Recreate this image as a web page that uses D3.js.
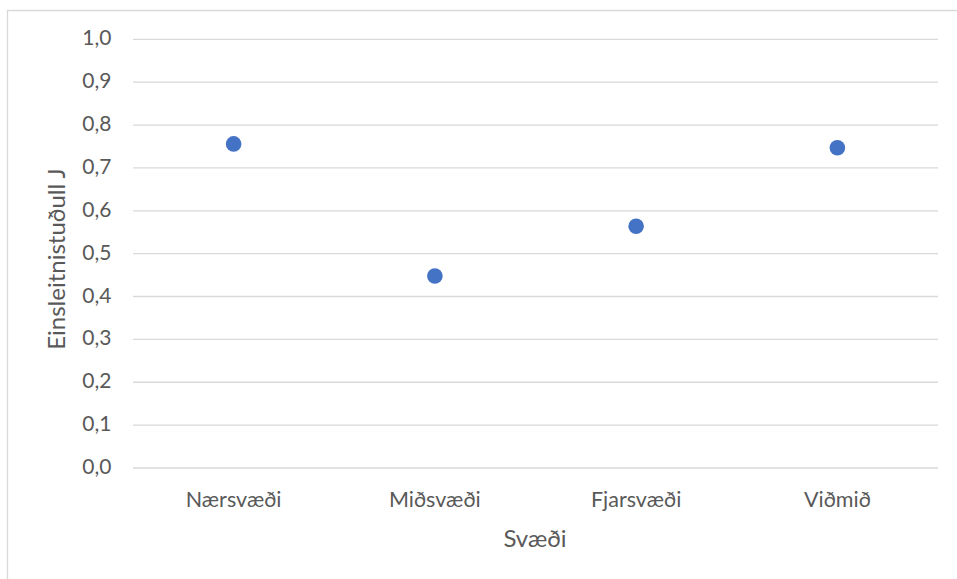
<!DOCTYPE html>
<html>
<head>
<meta charset="utf-8">
<script src="https://cdn.jsdelivr.net/npm/d3@7"></script>
<style>
  body { margin: 0; background: #fff; }
  svg text { font-family: Lato, "Open Sans", sans-serif; fill: #595959; }
</style>
</head>
<body>
<svg id="chart" width="957" height="579"></svg>
<script>
const categories = ['Nærsvæði', 'Miðsvæði', 'Fjarsvæði', 'Viðmið'];
const values = [0.756, 0.448, 0.564, 0.747];
const yTicks = [0, 0.1, 0.2, 0.3, 0.4, 0.5, 0.6, 0.7, 0.8, 0.9, 1.0];

const svg = d3.select('#chart');
const margin = { left: 133, right: 19, top: 39, bottom: 111 };
const width = 957, height = 579;

// chart frame (only top and left edges are inside the picture)
svg.append('path')
  .attr('d', 'M7.5,579V10.5H957')
  .attr('fill', 'none').attr('stroke', '#d9d9d9').attr('stroke-width', 1.3);

const x = d3.scaleBand()
  .domain(categories)
  .range([margin.left, width - margin.right]);

const y = d3.scaleLinear()
  .domain([0, 1])
  .range([468, 39.3]);

const fmt = d => d3.format('.1f')(d).replace('.', ',');

// gridlines
svg.append('g')
  .selectAll('line')
  .data(yTicks)
  .join('line')
  .attr('x1', margin.left).attr('x2', width - margin.right)
  .attr('y1', d => y(d)).attr('y2', d => y(d))
  .attr('stroke', '#d9d9d9').attr('stroke-width', 1.3);

// y tick labels
svg.append('g')
  .selectAll('text')
  .data(yTicks)
  .join('text')
  .attr('x', 111.5)
  .attr('y', d => y(d) + 6)
  .attr('text-anchor', 'end')
  .style('font-size', '21px')
  .text(fmt);

// x category labels
svg.append('g')
  .selectAll('text')
  .data(categories)
  .join('text')
  .attr('x', d => x(d) + x.bandwidth() / 2)
  .attr('y', 507)
  .attr('text-anchor', 'middle')
  .style('font-size', '21.5px')
  .text(d => d);

// points
svg.append('g')
  .selectAll('circle')
  .data(values)
  .join('circle')
  .attr('cx', (d, i) => x(categories[i]) + x.bandwidth() / 2)
  .attr('cy', d => y(d))
  .attr('r', 7.8)
  .attr('fill', '#4472c4');

// axis titles
svg.append('text')
  .attr('x', 535).attr('y', 547)
  .attr('text-anchor', 'middle')
  .style('font-size', '24px')
  .text('Svæði');

svg.append('text')
  .attr('transform', 'translate(65,259) rotate(-90)')
  .attr('text-anchor', 'middle')
  .style('font-size', '24px')
  .text('Einsleitnistuðull J');
</script>
</body>
</html>
